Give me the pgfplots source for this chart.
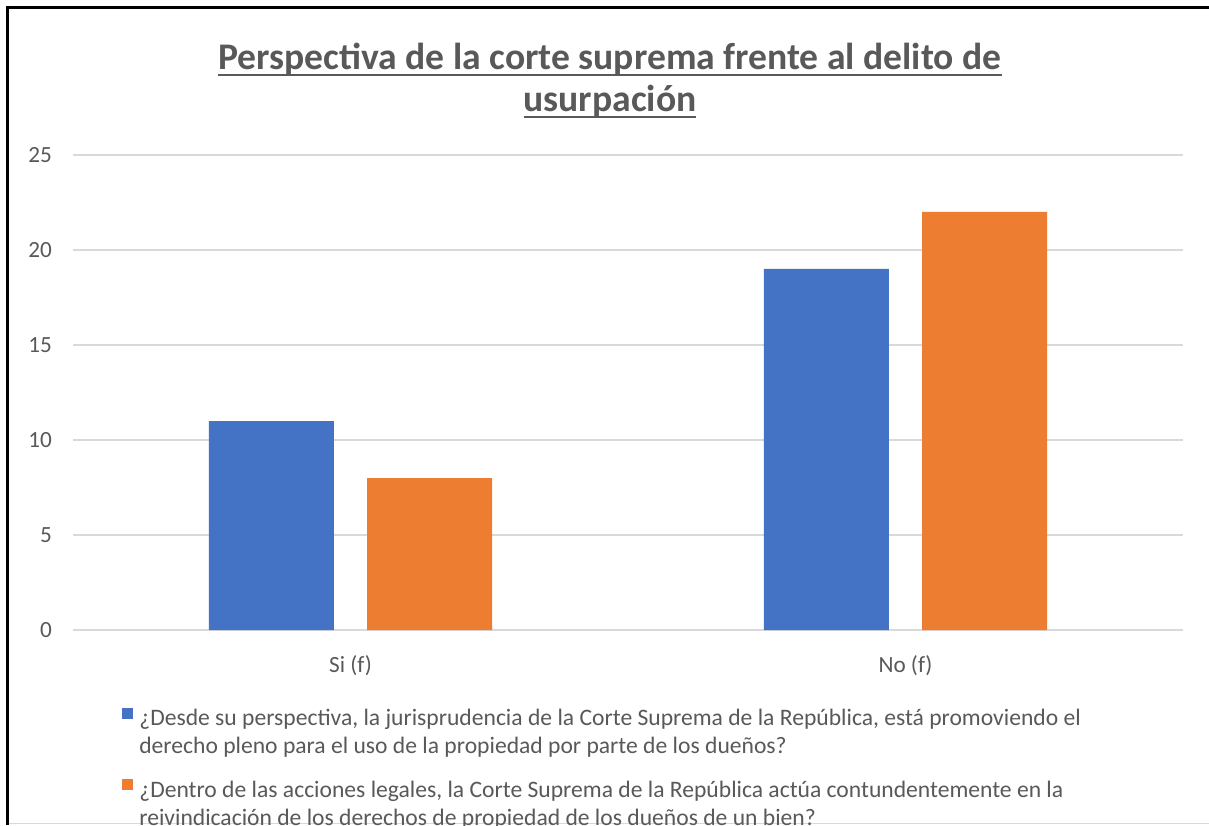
\documentclass[border=0pt]{standalone}
\usepackage{pgfplots}
\pgfplotsset{compat=1.18}
\usepackage{fontspec}
\setmainfont{Carlito}
\definecolor{txt}{HTML}{595959}
\definecolor{gridc}{HTML}{D9D9D9}
\definecolor{cblue}{HTML}{4472C4}
\definecolor{corange}{HTML}{ED7D31}
\newcommand\myul[1]{\setbox0\hbox{#1}\rlap{\rule[-3.2pt]{\wd0}{1.4pt}}\box0}
\begin{document}
\begin{tikzpicture}
\useasboundingbox (0,0) rectangle (604.5pt,412.5pt);
\fill[white] (0,0) rectangle (604.5pt,412.5pt);
\draw[line width=1.5pt,black] (3.5pt,0) -- (3.5pt,408.5pt) -- (604.5pt,408.5pt);
\draw[gridc,line width=0.5pt] (4.5pt,0.8pt) -- (604.5pt,0.8pt);
\node[anchor=base,text=txt,font=\fontsize{18.8pt}{22pt}\selectfont\bfseries] at (305pt,377.5pt) {\myul{Perspectiva de la corte suprema frente al delito de}};
\node[anchor=base,text=txt,font=\fontsize{18.8pt}{22pt}\selectfont\bfseries] at (305pt,356.5pt) {\myul{usurpación}};
\begin{axis}[
  at={(36.5pt,97.5pt)}, anchor=south west,
  scale only axis, width=555pt, height=237.5pt,
  ybar, bar width=0.225,
  xmin=-0.5, xmax=1.5, ymin=0, ymax=25,
  xtick={0,1}, xticklabels={Si (f),No (f)},
  ytick={0,5,10,15,20,25},
  ymajorgrids, grid style={gridc,line width=1pt},
  axis line style={draw=none},
  major tick style={draw=none},
  /pgf/number format/assume math mode=true,
  tick label style={text=txt,font=\fontsize{11.6pt}{13pt}\selectfont},
  yticklabel style={xshift=-7pt},
  xticklabel style={yshift=-5pt},
  legend style={at={(0.0441,-0.158)}, anchor=north west, draw=none, fill=none,
    cells={anchor=base west}, row sep=22pt, column sep=1pt, inner sep=0pt,
    font=\fontsize{11.8pt}{14pt}\selectfont, text=txt},
  legend cell align=left,
  legend image code/.code={\fill[#1,draw=none] (0pt,0.3pt) rectangle (5.5pt,5.8pt);},
]
\addplot[fill=cblue,draw=none,bar shift=-0.1425] coordinates {(0,11) (1,19)};
\addplot[fill=corange,draw=none,bar shift=0.1425] coordinates {(0,8) (1,22)};
\addlegendentry{\parbox[t]{540pt}{\fontsize{11.8pt}{14pt}\selectfont ¿Desde su perspectiva, la jurisprudencia de la Corte Suprema de la República, está promoviendo el\\derecho pleno para el uso de la propiedad por parte de los dueños?}}
\addlegendentry{\parbox[t]{540pt}{\fontsize{11.8pt}{14pt}\selectfont ¿Dentro de las acciones legales, la Corte Suprema de la República actúa contundentemente en la\\reivindicación de los derechos de propiedad de los dueños de un bien?}}
\end{axis}
\end{tikzpicture}
\end{document}
